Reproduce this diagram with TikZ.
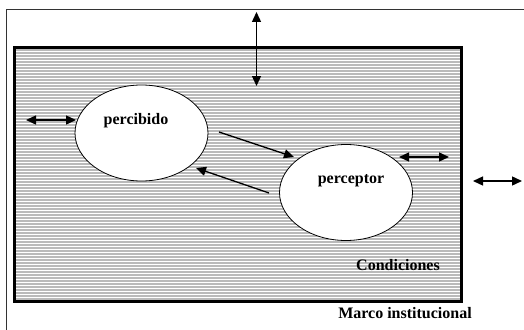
\documentclass[tikz,border=0pt]{standalone}
\usepackage{fontspec}
\setmainfont{Liberation Serif}
\usetikzlibrary{arrows.meta,positioning,shapes.geometric}
\tikzset{
    %Define standard arrow tip
    >={Triangle[length=10pt,width=9pt]},
    %Define style for the two actors
    actor/.style={
           ellipse,
           draw=black, thick,
           fill=white,
           minimum width=133pt,
           minimum height=96pt,
           inner sep=0pt},
    tag/.style={
           font=\fontsize{16}{19}\selectfont\bfseries,
           inner sep=0pt},
    % Define arrow style
    pil/.style={
           <->,
           line width=1.4pt},
    flow/.style={
           ->,
           line width=1.3pt}
}
\begin{document}
\begin{tikzpicture}[x=1pt,y=-1pt]
\useasboundingbox (0,0) rectangle (524,329);
\clip (0,0) rectangle (524,329);
 %frame and conditions
\draw[black!80, line width=0.9pt] (6,9) rectangle (540,345);
\fill[black!27] (14,48) rectangle (461,301);
\foreach \yy in {51,54,...,299}
  \draw[white, line width=0.9pt] (15,\yy) -- (460,\yy);
\draw[line width=3pt] (14,48) rectangle (461,301);
 %nodes
\node[actor] (percibido) at (141.5,133) {};
\node[actor] (perceptor) at (346,192.5) {};
\node[tag] (t1) at (136,121) {percibido};
\node[tag] (t2) at (351,181) {perceptor};
\node[tag] (cond) at (398,265) {Condiciones};
\node[tag] (marco) at (405,313) {Marco institucional};
 %free ends
\coordinate (top1) at (256.5,12);
\coordinate (top2) at (256.5,86);
\coordinate (l1) at (26,120);
\coordinate (l2) at (76,120);
\coordinate (r1) at (399,157);
\coordinate (r2) at (449,157);
\coordinate (o1) at (473,181);
\coordinate (o2) at (522,181);
\coordinate (a1) at (219,132);
\coordinate (a2) at (294,157);
\coordinate (b1) at (269,193);
\coordinate (b2) at (196,168);
 %arrows
\draw[pil] (top1) -- (top2);
\draw[pil] (l1) -- (l2);
\draw[pil] (r1) -- (r2);
\draw[pil] (o1) -- (o2);
\draw[flow] (a1) -- (a2);
\draw[flow] (b1) -- (b2);
\end{tikzpicture}
\end{document}
